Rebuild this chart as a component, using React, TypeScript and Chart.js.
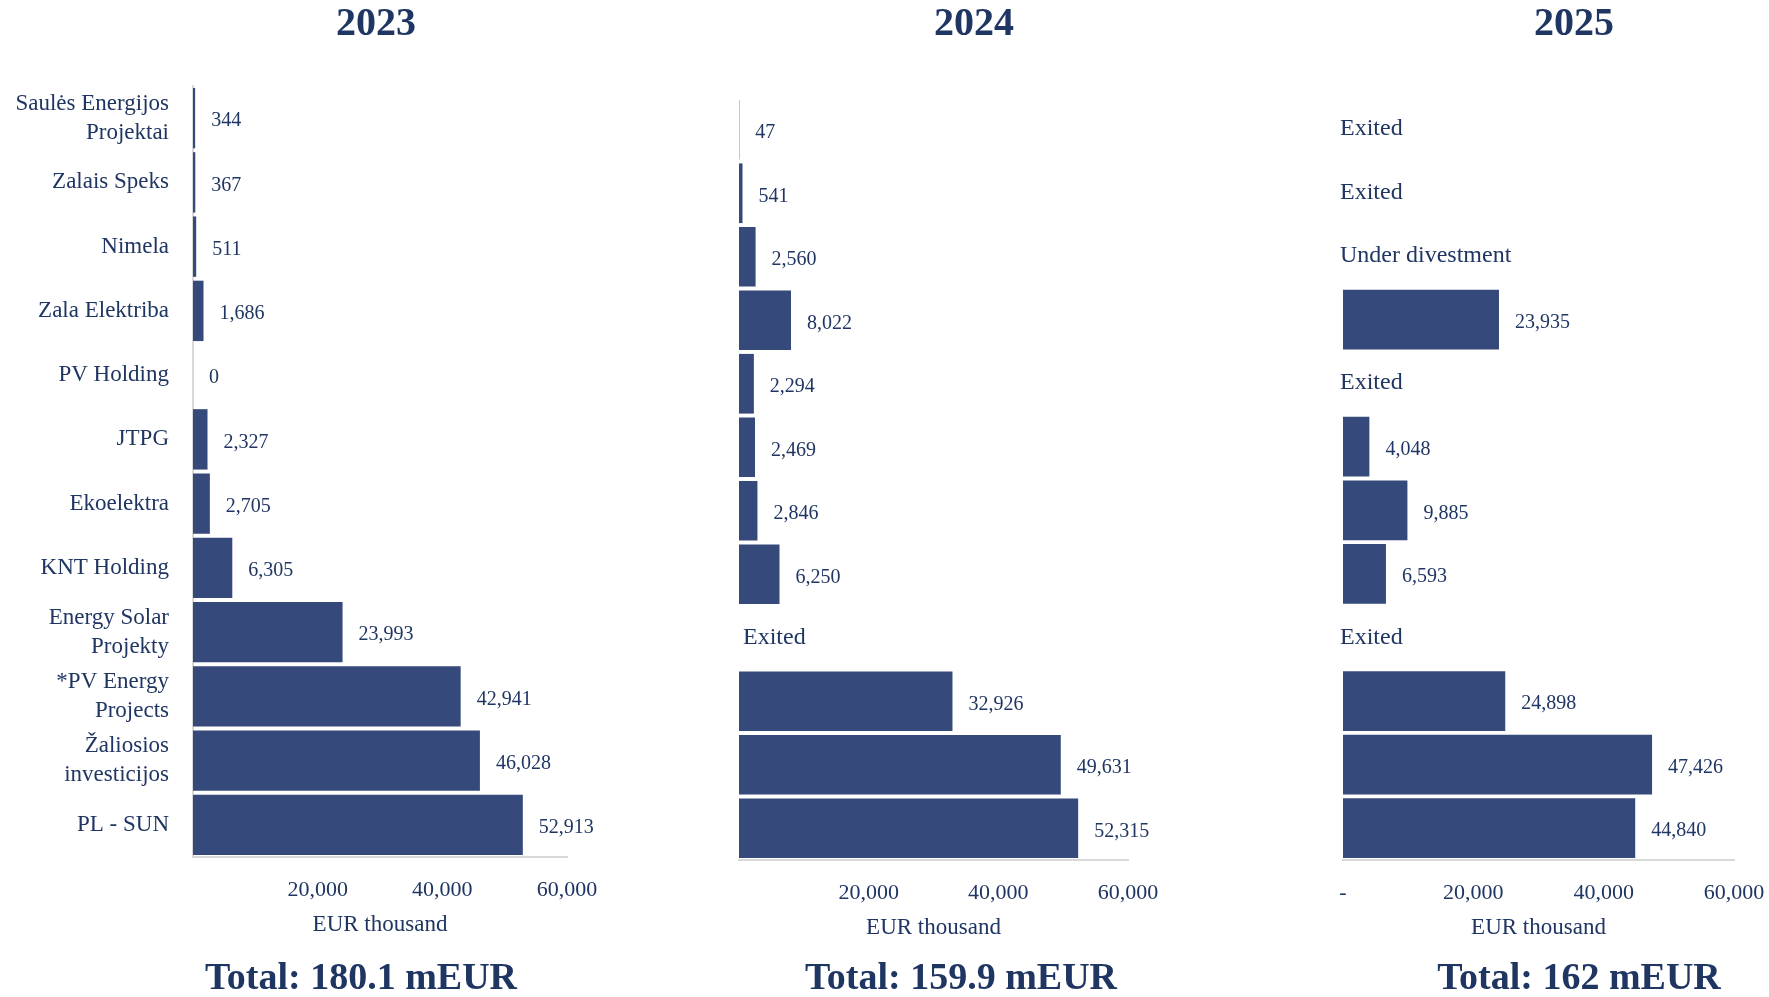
import React, { useEffect, useRef } from "react";
import { Chart, registerables } from "chart.js";

Chart.register(...registerables);

// ---------- data ----------
const categories: (string | string[])[] = [
  ["Saulės Energijos", "Projektai"],
  "Zalais Speks",
  "Nimela",
  "Zala Elektriba",
  "PV Holding",
  "JTPG",
  "Ekoelektra",
  "KNT Holding",
  ["Energy Solar", "Projekty"],
  ["*PV Energy", "Projects"],
  ["Žaliosios", "investicijos"],
  "PL - SUN",
];
const years = ["2023", "2024", "2025"];
const values2023: (number | null)[] = [344, 367, 511, 1686, 0, 2327, 2705, 6305, 23993, 42941, 46028, 52913];
const values2024: (number | null)[] = [47, 541, 2560, 8022, 2294, 2469, 2846, 6250, null, 32926, 49631, 52315];
const values2025: (number | null)[] = [null, null, null, 23935, null, 4048, 9885, 6593, null, 24898, 47426, 44840];
const status2023 = ["", "", "", "", "", "", "", "", "", "", "", ""];
const status2024 = ["", "", "", "", "", "", "", "", "Exited", "", "", ""];
const status2025 = ["Exited", "Exited", "Under divestment", "", "Exited", "", "", "", "Exited", "", "", ""];
const totals = ["Total: 180.1 mEUR", "Total: 159.9 mEUR", "Total: 162 mEUR"];
const xTickValues = [0, 20000, 40000, 60000];
const zeroTickLabels = ["", "", "-"];
const axisTitle = "EUR thousand";

// ---------- styles ----------
const W = 1769;
const H = 997;
const CANVAS_W = 1900;
const AXIS_H = 82;
const FONT = '"Liberation Serif", "Times New Roman", serif';
const TEXT = "#1f3562";
const BAR = "#354a7b";
const AXIS_LINE = "#d9d9d9";

Chart.defaults.font.family = FONT;

type PanelCfg = {
  values: (number | null)[];
  status: string[];
  left: number;
  right: number;
  top: number;
  bottom: number;
  showY: boolean;
  zeroLabel: string;
  statusOffset: number;
};

const panels: PanelCfg[] = [
  { values: values2023, status: status2023, left: 193, right: 567, top: 86, bottom: 857, showY: true, zeroLabel: zeroTickLabels[0], statusOffset: 4 },
  { values: values2024, status: status2024, left: 739, right: 1128, top: 98, bottom: 860, showY: false, zeroLabel: zeroTickLabels[1], statusOffset: 4 },
  { values: values2025, status: status2025, left: 1343, right: 1734, top: 97, bottom: 860, showY: false, zeroLabel: zeroTickLabels[2], statusOffset: -3 },
];

const titlePos = [
  { x: 376, y: 22 },
  { x: 974, y: 22 },
  { x: 1574, y: 22 },
];
const totalPos = [
  { x: 361, y: 976 },
  { x: 961, y: 976 },
  { x: 1579, y: 976 },
];

const valueLabelPlugin = {
  id: "valueLabels",
  afterDatasetsDraw(chart: any, _args: any, opts: any) {
    const { ctx } = chart;
    const meta = chart.getDatasetMeta(0);
    const data = chart.data.datasets[0].data as (number | null)[];
    const xs = chart.scales.x;
    const ys = chart.scales.y;
    const x0 = xs.getPixelForValue(0);
    ctx.save();
    ctx.fillStyle = TEXT;
    ctx.textBaseline = "middle";
    ctx.textAlign = "left";
    data.forEach((v, i) => {
      const y = ys.getPixelForValue(i);
      if (v !== null && v !== undefined) {
        const bar = meta.data[i];
        ctx.font = `20px ${FONT}`;
        ctx.fillText(Number(v).toLocaleString("en-US"), bar.x + 16, y + 3);
      } else if (opts.status && opts.status[i]) {
        ctx.font = `24px ${FONT}`;
        ctx.fillText(opts.status[i], x0 + opts.statusOffset, y);
      }
    });
    ctx.restore();
  },
};

function BarPanel({ cfg }: { cfg: PanelCfg }) {
  const ref = useRef<HTMLCanvasElement>(null);
  useEffect(() => {
    if (!ref.current) return;
    const chart = new Chart(ref.current, {
      type: "bar",
      data: {
        labels: categories as any,
        datasets: [
          {
            data: cfg.values as any,
            backgroundColor: BAR,
            borderWidth: 0,
            barPercentage: 0.94,
            categoryPercentage: 1,
          },
        ],
      },
      plugins: [valueLabelPlugin as any],
      options: {
        indexAxis: "y",
        animation: false,
        responsive: false,
        devicePixelRatio: 1,
        events: [],
        layout: {
          padding: {
            left: 0,
            right: CANVAS_W - cfg.right,
            top: cfg.top,
            bottom: H - cfg.bottom - AXIS_H,
          },
        },
        plugins: {
          legend: { display: false },
          tooltip: { enabled: false },
          title: { display: false },
          valueLabels: { status: cfg.status, statusOffset: cfg.statusOffset },
        } as any,
        scales: {
          x: {
            type: "linear",
            min: 0,
            max: 60000,
            afterBuildTicks: (s: any) => {
              s.ticks = xTickValues.map((v) => ({ value: v }));
            },
            afterFit: (s: any) => {
              s.height = AXIS_H;
            },
            grid: { display: false, drawTicks: false },
            border: { display: true, color: AXIS_LINE, width: 2 },
            ticks: {
              padding: 20,
              color: TEXT,
              autoSkip: false,
              maxRotation: 0,
              font: { size: 22, family: FONT },
              callback: (v: any) => (Number(v) === 0 ? cfg.zeroLabel : Number(v).toLocaleString("en-US")),
            },
            title: {
              display: true,
              text: axisTitle,
              color: TEXT,
              font: { size: 23, family: FONT, lineHeight: 1.2 },
              padding: { top: 0, bottom: 0 },
            },
          },
          y: {
            display: cfg.showY,
            afterFit: (s: any) => {
              s.width = cfg.left;
            },
            grid: { display: false, drawTicks: false },
            border: { display: cfg.showY, color: AXIS_LINE, width: 2 },
            ticks: {
              padding: 24,
              color: TEXT,
              autoSkip: false,
              font: { size: 23, family: FONT, lineHeight: 1.25 },
            },
          },
        },
      } as any,
    });
    return () => chart.destroy();
  }, [cfg]);
  return (
    <canvas
      ref={ref}
      width={CANVAS_W}
      height={H}
      style={{ position: "absolute", left: 0, top: 0, width: CANVAS_W, height: H }}
    />
  );
}

export default function App() {
  return (
    <div
      style={{
        position: "fixed",
        left: 0,
        top: 0,
        width: W,
        height: H,
        background: "#ffffff",
        overflow: "hidden",
        fontFamily: FONT,
      }}
    >
      {panels.map((p, i) => (
        <BarPanel key={i} cfg={p} />
      ))}
      {years.map((y, i) => (
        <div
          key={"t" + i}
          style={{
            position: "absolute",
            left: titlePos[i].x,
            top: titlePos[i].y,
            transform: "translate(-50%, -50%)",
            fontSize: 40,
            fontWeight: 700,
            color: TEXT,
            whiteSpace: "nowrap",
            lineHeight: 1,
          }}
        >
          {y}
        </div>
      ))}
      {totals.map((t, i) => (
        <div
          key={"s" + i}
          style={{
            position: "absolute",
            left: totalPos[i].x,
            top: totalPos[i].y,
            transform: "translate(-50%, -50%)",
            fontSize: 38,
            fontWeight: 700,
            color: TEXT,
            whiteSpace: "nowrap",
            lineHeight: 1,
          }}
        >
          {t}
        </div>
      ))}
    </div>
  );
}
